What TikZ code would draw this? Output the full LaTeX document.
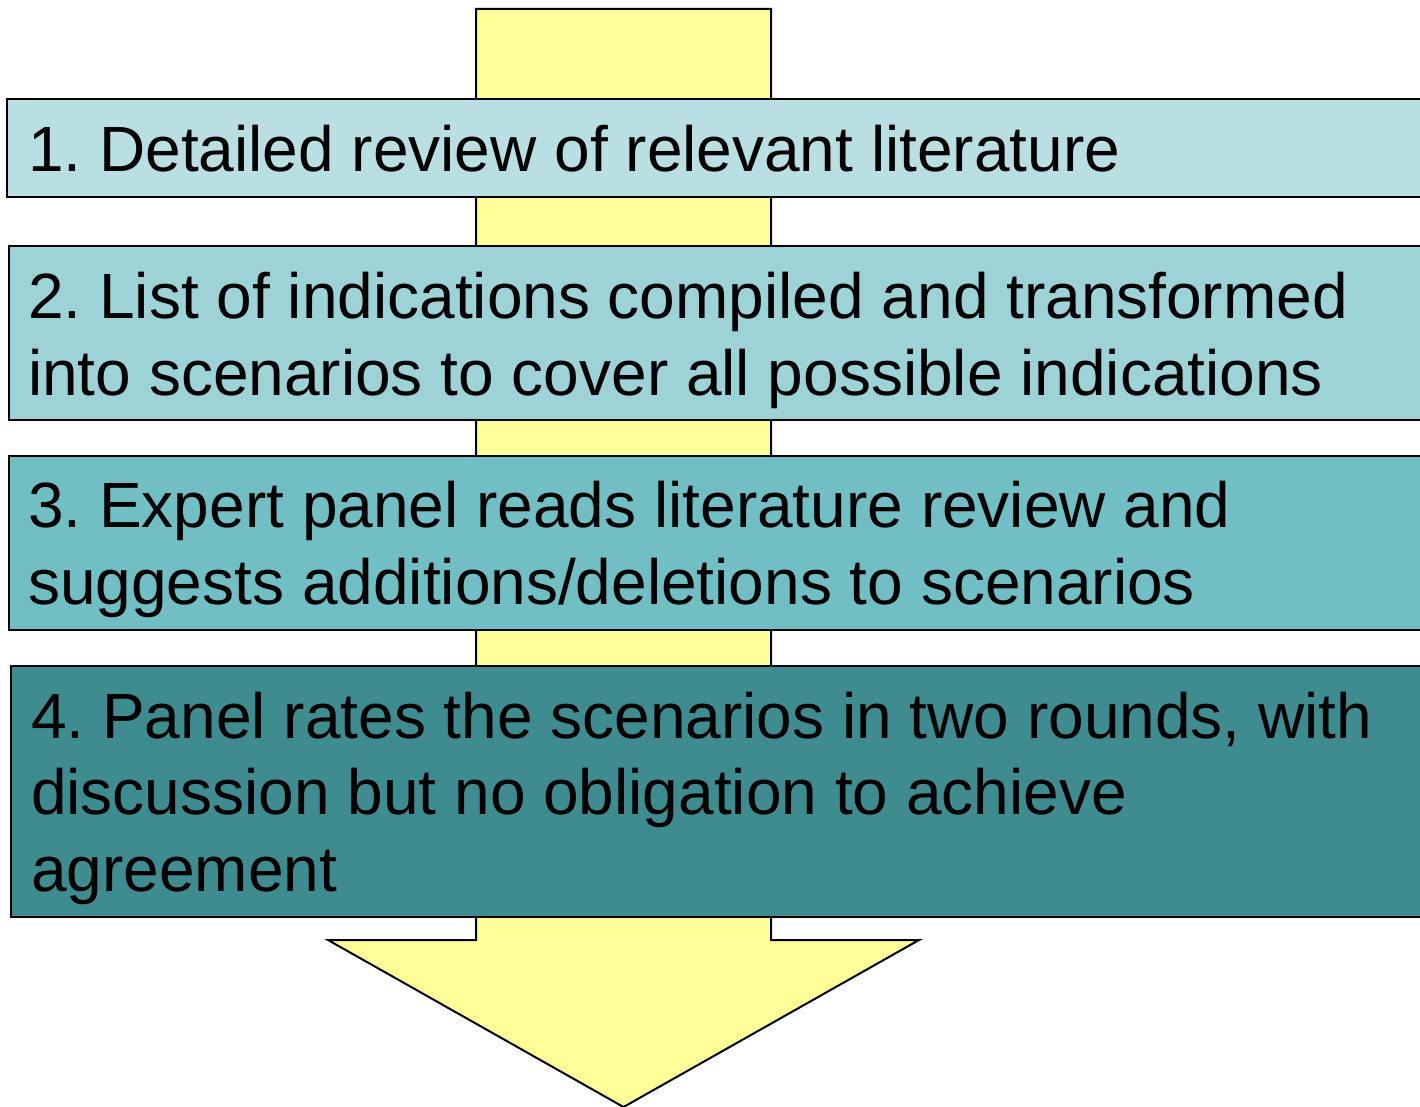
\documentclass[tikz,border=0pt]{standalone}
\usepackage{fontspec}
\setmainfont{Liberation Sans}
\definecolor{arrowyellow}{HTML}{FFFF99}
\definecolor{stepA}{HTML}{B9DFE2}
\definecolor{stepB}{HTML}{9DD3D7}
\definecolor{stepC}{HTML}{71BFC4}
\definecolor{stepD}{HTML}{3E8B90}
\begin{document}
\frenchspacing
\begin{tikzpicture}[x=1pt,y=-1pt,
  stagebox/.style={draw=black, line width=2pt, anchor=north west, inner sep=0pt, minimum width=1450pt},
  stagetext/.style={anchor=base west, inner sep=0pt, align=left, font=\fontsize{64}{76.5}\selectfont, text=black},
  flowarrow/.style={draw=black, line width=2pt, fill=arrowyellow, line join=miter}]
  \useasboundingbox (0,0) rectangle (1420,1107);
  \clip (0,0) rectangle (1420,1107);
  % broad downward arrow behind the stages
  \draw[flowarrow] (476,9) -- (771,9) -- (771,940) -- (919,940) -- (623.5,1107)
    -- (328,940) -- (476,940) -- cycle;
  % stage boxes
  \node[stagebox, fill=stepA, minimum height=98pt] (b1) at (6,98) {};
  \node[stagebox, fill=stepB, minimum height=174pt] (b2) at (8,245) {};
  \node[stagebox, fill=stepC, minimum height=174pt] (b3) at (8,455) {};
  \node[stagebox, fill=stepD, minimum height=251pt] (b4) at (10,665) {};
  % stage texts (anchored at the baseline of their last line)
  \node[stagetext] (t1) at (28,172) {1. Detailed review of relevant literature};
  \node[stagetext] (t2) at (28,395) {2. List of indications compiled and transformed\\into scenarios to cover all possible indications};
  \node[stagetext] (t3) at (28,604) {3. Expert panel reads literature review and\\suggests additions/deletions to scenarios};
  \node[stagetext] (t4) at (31,891) {4. Panel rates the scenarios in two rounds, with\\discussion but no obligation to achieve\\agreement};
\end{tikzpicture}
\end{document}
